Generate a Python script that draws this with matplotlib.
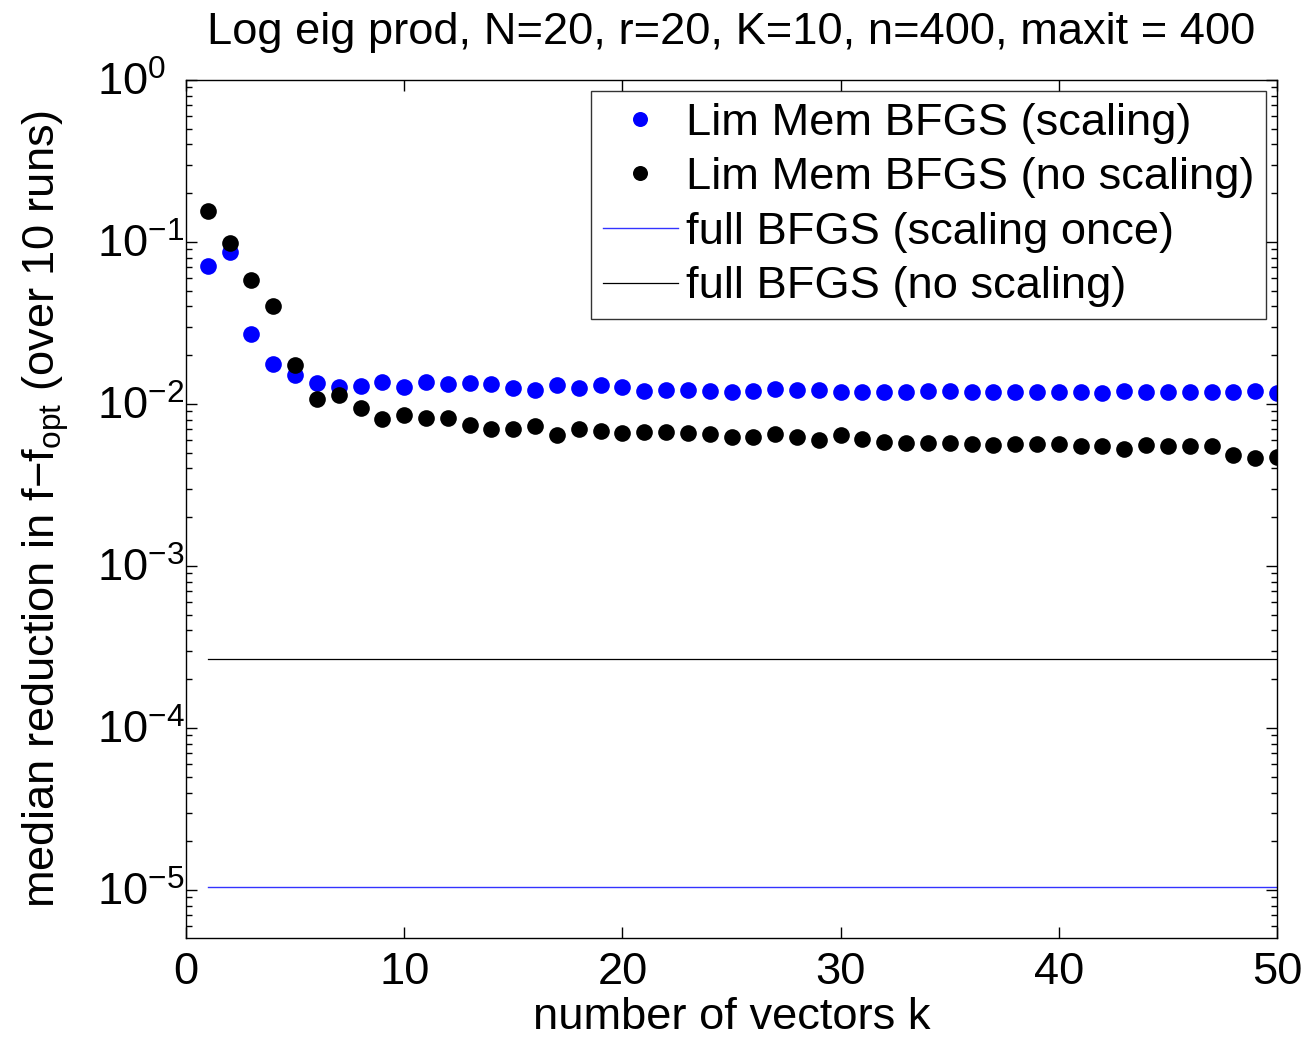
import matplotlib
matplotlib.use("Agg")
import matplotlib.pyplot as plt
import numpy as np
from matplotlib.ticker import LogLocator, FixedLocator, NullFormatter
from matplotlib.transforms import ScaledTranslation

plt.rcParams['font.family'] = ['Liberation Sans', 'DejaVu Sans']
plt.rcParams['mathtext.fontset'] = 'custom'
plt.rcParams['mathtext.rm'] = 'Liberation Sans'
plt.rcParams['mathtext.it'] = 'Liberation Sans'
plt.rcParams['mathtext.default'] = 'regular'

title = "Log eig prod, N=20, r=20, K=10, n=400, maxit = 400"
k = list(range(1, 51))
lm_scaling = [0.0713, 0.0865, 0.027, 0.0177, 0.0152, 0.01346, 0.0127, 0.0129, 0.01365, 0.01277,
              0.01377, 0.01334, 0.01346, 0.01334, 0.01253, 0.01225, 0.01316, 0.01257, 0.01303, 0.0128,
              0.01208, 0.01225, 0.01225, 0.0121, 0.01194, 0.0121, 0.01236, 0.0122, 0.0122, 0.01183,
              0.0119, 0.0119, 0.0118, 0.0120, 0.0121, 0.0118, 0.0118, 0.0118, 0.0118, 0.0119,
              0.01185, 0.0117, 0.0121, 0.0119, 0.0119, 0.0119, 0.0119, 0.0119, 0.0120, 0.0117]
lm_noscaling = [0.155, 0.098, 0.058, 0.040, 0.0174, 0.01076, 0.0114, 0.0095, 0.00807, 0.0085,
                0.00819, 0.00822, 0.00743, 0.00706, 0.00703, 0.00733, 0.00643, 0.00697, 0.00685, 0.0066,
                0.00672, 0.0067, 0.0066, 0.00655, 0.00627, 0.0063, 0.0065, 0.00625, 0.00603, 0.0064,
                0.0061, 0.0058, 0.00573, 0.00573, 0.00573, 0.00565, 0.0056, 0.00565, 0.00568, 0.00568,
                0.00553, 0.0055, 0.00531, 0.0056, 0.0055, 0.0055, 0.0055, 0.00485, 0.00467, 0.00468]
full_scaling_once = 1.04e-5
full_noscaling = 2.65e-4
y_exponents = [0, -1, -2, -3, -4, -5]
x_ticks = [0, 10, 20, 30, 40, 50]

FS = 32.6

fig = plt.figure(figsize=(13.06, 10.38), dpi=100)
ax = fig.add_axes([186/1306, 1-938/1038, (1277-186)/1306, (938-80)/1038])

ax.plot(k, lm_scaling, 'o', color=(0, 0, 1), markersize=12, markeredgewidth=0,
        label='Lim Mem BFGS (scaling)')
ax.plot(k, lm_noscaling, 'o', color='black', markersize=12, markeredgewidth=0,
        label='Lim Mem BFGS (no scaling)')
ax.plot([k[0], k[-1]], [full_scaling_once]*2, '-', color=(0.2, 0.2, 1), lw=1.0,
        label='full BFGS (scaling once)')
ax.plot([k[0], k[-1]], [full_noscaling]*2, '-', color='black', lw=0.9,
        label='full BFGS (no scaling)')

ax.set_yscale('log')
ax.set_xlim(0, 50)
ax.set_ylim(10**-5.296, 1)
ax.set_xticks(x_ticks)
ax.set_yticks([10.0**e for e in y_exponents])
ax.set_yticklabels([r'$10^{%d}$' % e for e in y_exponents])
ax.yaxis.set_minor_locator(LogLocator(base=10, subs=np.arange(2, 10), numticks=20))
ax.yaxis.set_minor_formatter(NullFormatter())
ax.tick_params(which='both', direction='in', top=True, right=True, labelsize=FS, width=1)
ax.tick_params(which='major', length=8)
ax.tick_params(which='minor', length=4)
ax.tick_params(axis='x', which='major', pad=10)
ax.tick_params(axis='y', which='major', pad=64)
off = ScaledTranslation(0, -16/100, fig.dpi_scale_trans)
for lbl in ax.get_yticklabels():
    lbl.set_horizontalalignment('left')
    lbl.set_verticalalignment('baseline')
    lbl.set_transform(lbl.get_transform() + off)
for s in ax.spines.values():
    s.set_linewidth(1)

ax.set_title(title, fontsize=FS, pad=26)
ax.set_xlabel('number of vectors k', fontsize=FS, labelpad=3)
ax.set_ylabel(r'median reduction in f$-$f$_{opt}$ (over 10 runs)', fontsize=FS, labelpad=19)

leg = ax.legend(loc='upper right', fontsize=FS, frameon=True, fancybox=False,
                edgecolor='black', borderaxespad=0.25, handlelength=1.66, handletextpad=0.18,
                labelspacing=0.3, borderpad=0.25, markerscale=0.9)
leg.get_frame().set_linewidth(1)

fig.savefig('out.png', dpi=100)
